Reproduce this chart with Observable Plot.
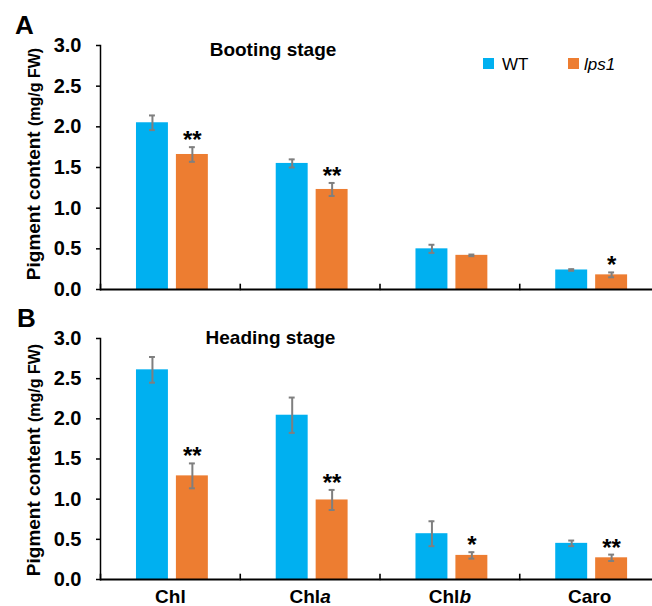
<!DOCTYPE html>
<html><head><meta charset="utf-8">
<script src="https://cdn.jsdelivr.net/npm/d3@7"></script>
<script src="https://cdn.jsdelivr.net/npm/@observablehq/plot@0.6"></script>
<style>
body{margin:0;background:#fff}
#outer{position:relative;width:652px;height:606px;overflow:hidden;background:#fff}
.panel{position:absolute;left:0;width:660px}
</style></head><body>
<div id="outer"><div id="pa" class="panel" style="top:0"></div><div id="pb" class="panel" style="top:300px"></div></div>
<script>
const categories = ["Chl", "Chla", "Chlb", "Caro"];
const series = ["WT", "lps1"];
const bootWT = [2.05, 1.55, 0.50, 0.24];
const bootWTErr = [0.09, 0.05, 0.05, 0.01];
const bootLps = [1.66, 1.23, 0.42, 0.18];
const bootLpsErr = [0.09, 0.08, 0.01, 0.03];
const bootSig = ["**", "**", "", "*"];
const headWT = [2.61, 2.045, 0.57, 0.45];
const headWTErr = [0.16, 0.22, 0.155, 0.035];
const headLps = [1.29, 0.99, 0.30, 0.27];
const headLpsErr = [0.155, 0.125, 0.04, 0.04];
const headSig = ["**", "**", "*", "**"];
const yTicks = [0, 0.5, 1, 1.5, 2, 2.5, 3];
const colors = ["#00B0F0", "#ED7D31"];
const FONT = "'Liberation Sans', Arial, sans-serif";

function rows(wt, wtE, lps, lpsE, sig) {
  return categories.flatMap((c, i) => [
    {cat: c, series: "WT", value: wt[i], err: wtE[i], sig: ""},
    {cat: c, series: "lps1", value: lps[i], err: lpsE[i], sig: sig[i]}
  ]);
}

function panel({data, height, marginTop, marginBottom, xLabels}) {
  const W = 659, ML = 100;
  const innerH = height - marginTop - marginBottom;
  return Plot.plot({
    width: W, height, marginLeft: ML, marginRight: 0, marginTop, marginBottom,
    style: {fontFamily: FONT, background: "#fff", color: "#000"},
    fx: {domain: categories, axis: null, padding: 0, round: false},
    x: {domain: series, axis: null, paddingInner: 0.2, paddingOuter: 0.85, align: 0.53, round: false},
    y: {domain: [0, 3], axis: null},
    color: {domain: series, range: colors},
    marks: [
      Plot.barY(data, {fx: "cat", x: "series", y: "value", fill: "series"}),
      Plot.ruleX(data, {fx: "cat", x: "series", y1: d => d.value - d.err, y2: d => d.value + d.err, stroke: "#7f7f7f", strokeWidth: 2}),
      Plot.tickY(data, {fx: "cat", x: "series", y: d => d.value - d.err, stroke: "#7f7f7f", strokeWidth: 2, insetLeft: 13, insetRight: 13}),
      Plot.tickY(data, {fx: "cat", x: "series", y: d => d.value + d.err, stroke: "#7f7f7f", strokeWidth: 2, insetLeft: 13, insetRight: 13}),
      Plot.text(data.filter(d => d.sig), {fx: "cat", x: "series", y: d => d.value + d.err, text: "sig", lineAnchor: "bottom", dy: 1, fontSize: 24, fontWeight: "bold", fill: "#000"}),
      // category separator ticks (short, inside) at the left edge of every facet
      Plot.frame({anchor: "left", insetTop: innerH - 5, stroke: "#000", strokeWidth: 1.6}),
      Plot.ruleY([0], {stroke: "#000", strokeWidth: 1.8}),
      Plot.frame({anchor: "left", facetAnchor: "left", stroke: "#000", strokeWidth: 1.5}),
      Plot.axisY({ticks: yTicks, tickFormat: d3.format(".1f"), tickSize: 4, tickPadding: 15, fontSize: 20, fontWeight: "bold", strokeWidth: 1.5, label: null}),
      xLabels ? Plot.axisFx({anchor: "bottom", tickSize: 0, tickPadding: 10, fontSize: 19, fontWeight: "bold", label: null}) : null
    ]
  });
}

function addYLabel(svg, cx, cy) {
  const t = d3.select(svg).append("text")
    .attr("transform", `translate(${cx},${cy}) rotate(-90)`)
    .attr("text-anchor", "middle").attr("font-family", FONT).attr("font-weight", "bold").attr("fill", "#000");
  t.append("tspan").attr("font-size", 19).text("Pigment content ");
  t.append("tspan").attr("font-size", 16).text("(mg/g FW)");
}
function addText(svg, x, y, txt, size, anchor) {
  d3.select(svg).append("text").attr("x", x).attr("y", y).attr("text-anchor", anchor)
    .attr("font-family", FONT).attr("font-weight", "bold").attr("font-size", size).attr("fill", "#000").text(txt);
}

// Panel A
const plotA = panel({data: rows(bootWT, bootWTErr, bootLps, bootLpsErr, bootSig), height: 300, marginTop: 45, marginBottom: 11, xLabels: false});
addText(plotA, 15, 34, "A", 26, "start");
addText(plotA, 273, 56, "Booting stage", 19, "middle");
addYLabel(plotA, 40, 164);
// Legend
const color = plotA.scale("color");
const legendX = [483, 568];
const lg = d3.select(plotA).append("g").attr("font-family", FONT).attr("font-size", 17).attr("text-anchor", "start");
series.forEach((s, i) => {
  lg.append("rect").attr("x", legendX[i]).attr("y", 58).attr("width", 11).attr("height", 11).attr("fill", color.apply(s));
  lg.append("text").attr("x", legendX[i] + (i === 0 ? 19 : 16)).attr("y", 69.5).attr("fill", "#000")
    .attr("text-anchor", "start").attr("font-style", i === 1 ? "italic" : "normal").text(s);
});
document.getElementById("pa").appendChild(plotA);

// Panel B
const plotB = panel({data: rows(headWT, headWTErr, headLps, headLpsErr, headSig), height: 306, marginTop: 38, marginBottom: 27, xLabels: true});
addText(plotB, 17, 27, "B", 26, "start");
addText(plotB, 270.5, 44, "Heading stage", 19, "middle");
addYLabel(plotB, 40, 160);
// italic suffix on Chla / Chlb
d3.select(plotB).selectAll("text").each(function() {
  const s = this.textContent;
  if (s === "Chla" || s === "Chlb") {
    const el = d3.select(this);
    el.text("");
    el.append("tspan").text("Chl");
    el.append("tspan").attr("font-style", "italic").text(s.slice(3));
  }
});
document.getElementById("pb").appendChild(plotB);
</script>
</body></html>
